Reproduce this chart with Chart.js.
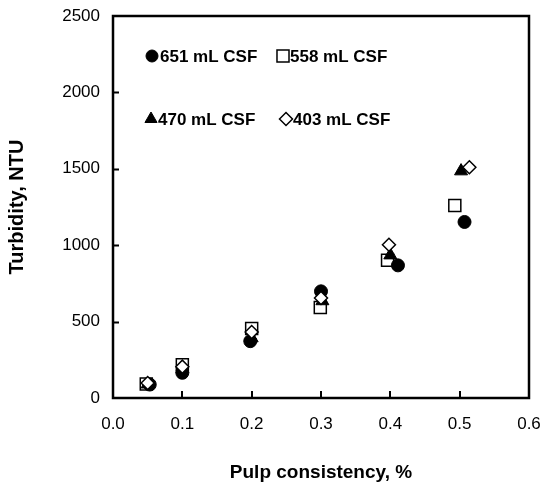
<!DOCTYPE html>
<html>
<head>
<meta charset="utf-8">
<script src="https://cdn.jsdelivr.net/npm/chart.js@4/dist/chart.umd.min.js"></script>
<style>
  html, body { margin: 0; padding: 0; background: #fff; }
  #wrap { width: 543px; height: 486px; }
</style>
</head>
<body>
<div id="wrap"><canvas id="chart" width="543" height="486"></canvas></div>
<script>
// ── Data ─────────────────────────────────────────────────
const seriesLabels = ['651 mL CSF', '558 mL CSF', '470 mL CSF', '403 mL CSF'];

const x651 = [0.053, 0.100, 0.198, 0.300, 0.411, 0.507];
const y651 = [88, 165, 372, 698, 868, 1152];

const x558 = [0.048, 0.100, 0.200, 0.299, 0.396, 0.493];
const y558 = [92, 218, 455, 593, 902, 1260];

const x470 = [0.050, 0.100, 0.200, 0.302, 0.400, 0.502];
const y470 = [90, 190, 392, 635, 935, 1485];

const x403 = [0.050, 0.100, 0.200, 0.300, 0.398, 0.514];
const y403 = [98, 205, 432, 655, 1003, 1510];

const xTickValues = [0.0, 0.1, 0.2, 0.3, 0.4, 0.5, 0.6];
const yTickValues = [0, 500, 1000, 1500, 2000, 2500];

const FONT = "'Liberation Sans', Arial, sans-serif";

function pts(xs, ys) {
  return xs.map((x, i) => ({ x, y: ys[i] }));
}

// no overflow padding from tick labels, layout.padding decides the plot box
function noOverflow(s) {
  s.paddingLeft = 0; s.paddingRight = 0;
  s.paddingTop = 0; s.paddingBottom = 0;
}

// ── Frame + inward tick marks ────────────────────────────
const framePlugin = {
  id: 'frame',
  afterDatasetsDraw(chart) {
    const { ctx, chartArea: a, scales } = chart;
    ctx.save();
    ctx.strokeStyle = '#000';
    ctx.lineWidth = 2;
    ctx.beginPath();
    yTickValues.slice(1, -1).forEach(v => {
      const py = Math.round(scales.y.getPixelForValue(v)) + 0.5;
      ctx.moveTo(a.left, py);
      ctx.lineTo(a.left + 6, py);
    });
    xTickValues.slice(1, -1).forEach(v => {
      const px = Math.round(scales.x.getPixelForValue(v));
      ctx.moveTo(px, a.bottom);
      ctx.lineTo(px, a.bottom - 7);
    });
    ctx.stroke();
    ctx.lineWidth = 2.5;
    ctx.strokeRect(a.left, a.top, a.right - a.left, a.bottom - a.top);
    ctx.restore();
  }
};

// ── Legend drawn inside the plot ─────────────────────────
const legendSpots = [
  { mx: 152, tx: 160, y: 56 },
  { mx: 283, tx: 290, y: 56 },
  { mx: 151, tx: 158, y: 119 },
  { mx: 286, tx: 293, y: 119 },
];

const insideLegend = {
  id: 'insideLegend',
  afterDraw(chart) {
    const { ctx } = chart;
    ctx.save();
    ctx.font = `bold 17px ${FONT}`;
    ctx.textBaseline = 'middle';
    chart.data.datasets.forEach((ds, i) => {
      const s = legendSpots[i];
      ctx.fillStyle = ds.pointBackgroundColor;
      ctx.strokeStyle = '#000';
      ctx.lineWidth = ds.pointBorderWidth;
      Chart.helpers.drawPoint(ctx, {
        pointStyle: ds.pointStyle,
        radius: ds.legendRadius,
        rotation: 0,
        borderWidth: ds.pointBorderWidth,
      }, s.mx, s.y);
      ctx.fillStyle = '#000';
      ctx.fillText(ds.label, s.tx, s.y + 1);
    });
    ctx.restore();
  }
};

const ctx = document.getElementById('chart');

new Chart(ctx, {
  type: 'scatter',
  data: {
    datasets: [
      {
        label: seriesLabels[0],
        data: pts(x651, y651),
        pointStyle: 'circle',
        pointRadius: 6.5,
        legendRadius: 6,
        pointBackgroundColor: '#000',
        pointBorderColor: '#000',
        pointBorderWidth: 1,
        order: 2,
      },
      {
        label: seriesLabels[1],
        data: pts(x558, y558),
        pointStyle: 'rect',
        pointRadius: 8.5,
        legendRadius: 8.5,
        pointBackgroundColor: '#fff',
        pointBorderColor: '#000',
        pointBorderWidth: 1.5,
        order: 3,
      },
      {
        label: seriesLabels[2],
        data: pts(x470, y470),
        pointStyle: 'triangle',
        pointRadius: 7.5,
        legendRadius: 7,
        pointBackgroundColor: '#000',
        pointBorderColor: '#000',
        pointBorderWidth: 1,
        order: 1,
      },
      {
        label: seriesLabels[3],
        data: pts(x403, y403),
        pointStyle: 'rectRot',
        pointRadius: 6.5,
        legendRadius: 6.5,
        pointBackgroundColor: '#fff',
        pointBorderColor: '#000',
        pointBorderWidth: 1.5,
        order: 0,
      },
    ],
  },
  options: {
    responsive: false,
    animation: false,
    events: [],
    layout: { padding: { left: 0, right: 14, top: 16, bottom: 0 } },
    plugins: {
      legend: { display: false },
      tooltip: { enabled: false },
    },
    scales: {
      x: {
        type: 'linear',
        min: 0,
        max: 0.6,
        afterBuildTicks: s => { s.ticks = xTickValues.map(v => ({ value: v })); },
        afterFit: s => { s.height = 88; noOverflow(s); },
        grid: { display: false, drawTicks: false },
        border: { display: false },
        ticks: {
          color: '#000',
          padding: 16,
          font: { family: FONT, size: 17 },
          callback: v => Number(v).toFixed(1),
        },
        title: {
          display: true,
          text: 'Pulp consistency, %',
          color: '#000',
          font: { family: FONT, size: 19, weight: 'bold' },
          padding: { top: 0, bottom: 2 },
        },
      },
      y: {
        type: 'linear',
        min: 0,
        max: 2500,
        afterBuildTicks: s => { s.ticks = yTickValues.map(v => ({ value: v })); },
        afterFit: s => { s.width = 113; noOverflow(s); },
        grid: { display: false, drawTicks: false },
        border: { display: false },
        ticks: {
          color: '#000',
          padding: 13,
          font: { family: FONT, size: 17 },
          callback: v => String(v),
        },
        title: {
          display: true,
          text: 'Turbidity, NTU',
          color: '#000',
          font: { family: FONT, size: 20, weight: 'bold' },
          padding: { top: 5, bottom: 0 },
        },
      },
    },
  },
  plugins: [framePlugin, insideLegend],
});
</script>
</body>
</html>
